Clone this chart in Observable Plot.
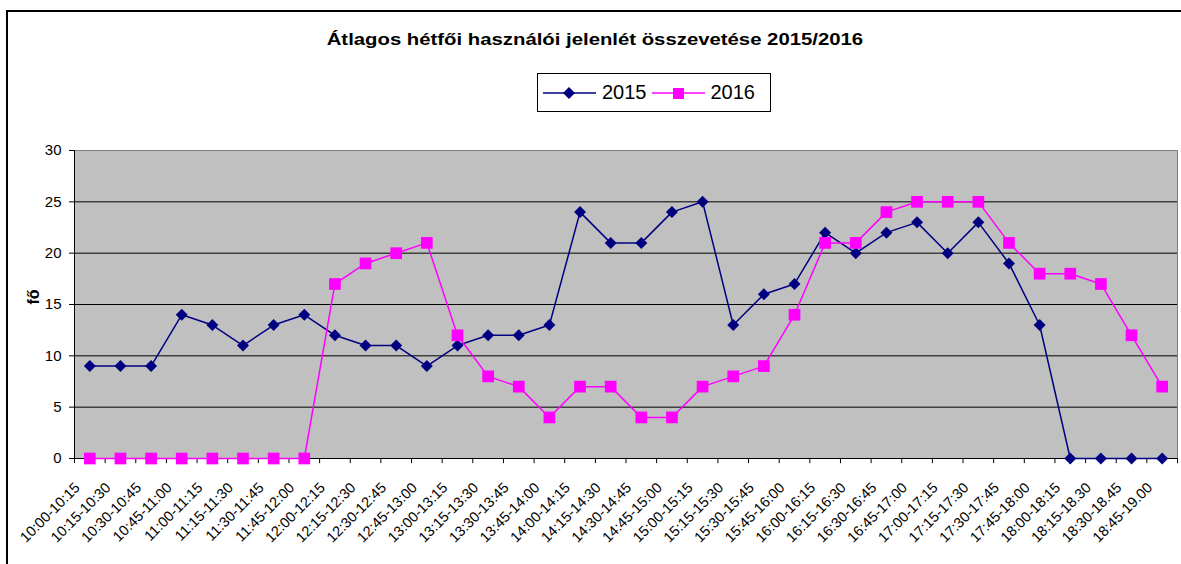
<!DOCTYPE html>
<html><head><meta charset="utf-8">
<script src="https://cdn.jsdelivr.net/npm/d3@7"></script>
<script src="https://cdn.jsdelivr.net/npm/@observablehq/plot@0.6"></script>
<style>
body{margin:0;background:#fff;font-family:"Liberation Sans",Arial,sans-serif;}
#wrap{position:relative;width:1181px;height:564px;overflow:hidden;background:#fff;}
#frame{position:absolute;left:6px;top:10px;width:1200px;height:600px;border-top:2px solid #000;border-left:2px solid #000;}
#title{position:absolute;left:0;width:1192px;top:31px;text-align:center;font-weight:bold;font-size:16px;color:#000;transform:scaleX(1.27);transform-origin:600px 0;}
#legend{position:absolute;left:537px;top:73px;width:232px;height:37px;border:1px solid #000;background:#fff;display:flex;align-items:center;font-size:20px;}
#legend .item{display:flex;align-items:center;margin-left:5px;}
#legend .item span{margin-left:6px;}
#chart{position:absolute;left:0;top:0;}
</style></head><body>
<div id="wrap"><div id="frame"></div><div id="chart"></div><div id="title">Átlagos hétfői használói jelenlét összevetése 2015/2016</div><div id="legend"></div></div>
<script>
const categories = ["10:00-10:15","10:15-10:30","10:30-10:45","10:45-11:00","11:00-11:15","11:15-11:30","11:30-11:45","11:45-12:00","12:00-12:15","12:15-12:30","12:30-12:45","12:45-13:00","13:00-13:15","13:15-13:30","13:30-13:45","13:45-14:00","14:00-14:15","14:15-14:30","14:30-14:45","14:45-15:00","15:00-15:15","15:15-15:30","15:30-15:45","15:45-16:00","16:00-16:15","16:15-16:30","16:30-16:45","16:45-17:00","17:00-17:15","17:15-17:30","17:30-17:45","17:45-18:00","18:00-18:15","18:15-18.30","18:30-18.45","18:45-19.00"];
const values2015 = [9,9,9,14,13,11,13,14,12,11,11,9,11,12,12,13,24,21,21,24,25,13,16,17,22,20,22,23,20,23,19,13,0,0,0,0];
const values2016 = [0,0,0,0,0,0,0,0,17,19,20,21,12,8,7,4,7,7,4,4,7,8,9,14,21,21,24,25,25,25,21,18,18,17,12,7];
const seriesNames = ["2015","2016"];
const seriesColors = ["#000080","#ff00ff"];
const yTicks = [0,5,10,15,20,25,30];
const gridTicks = [5,10,15,20,25];
const yLabel = "fő";

const W = 1181, H = 564, ML = 74, MR = 4, MT = 150, MB = 106;
const step = (W - ML - MR) / categories.length;

const d2015 = categories.map((c,i)=>({cat:c, v:values2015[i]}));
const d2016 = categories.map((c,i)=>({cat:c, v:values2016[i]}));

const chart = Plot.plot({
  width: W, height: H,
  marginLeft: ML, marginRight: MR, marginTop: MT, marginBottom: MB,
  style: {background: "transparent", fontFamily: '"Liberation Sans", Arial, sans-serif', color: "#000"},
  x: {type: "point", domain: categories, padding: 0.5, round: false, axis: null},
  y: {domain: [0, 30], axis: null},
  marks: [
    Plot.frame({fill: "#c0c0c0", stroke: "#808080"}),
    Plot.gridY({ticks: gridTicks, stroke: "#000", strokeOpacity: 1}),
    Plot.ruleY([0], {stroke: "#000"}),
    Plot.ruleX([categories[0]], {x: d=>d, dx: -step/2, y1: 0, y2: 30, stroke: "#000"}),
    Plot.ruleX(categories, {x: d=>d, dx: -step/2, y1: 0, y2: -0.5, stroke: "#000"}),
    Plot.ruleX([categories[categories.length-1]], {x: d=>d, dx: step/2, y1: 0, y2: -0.5, stroke: "#000"}),
    Plot.axisY({ticks: yTicks, tickSize: 5, tickPadding: 8, fontSize: 15, label: null, stroke: "#000"}),
    Plot.text([yLabel], {text: d=>d, frameAnchor: "left", rotate: -90, dx: -41, fontWeight: "bold", fontSize: 16}),
    Plot.text(categories, {x: d=>d, text: d=>d, frameAnchor: "bottom", rotate: -45, textAnchor: "end", lineAnchor: "bottom", dx: -9, dy: 30, fontSize: 14.5}),
    Plot.line(d2015, {x: "cat", y: "v", stroke: seriesColors[0], strokeWidth: 1.5}),
    Plot.dot(d2015, {x: "cat", y: "v", symbol: "diamond2", r: 5.4, fill: seriesColors[0]}),
    Plot.line(d2016, {x: "cat", y: "v", stroke: seriesColors[1], strokeWidth: 1.5}),
    Plot.dot(d2016, {x: "cat", y: "v", symbol: "square", r: 6.6, fill: seriesColors[1]})
  ]
});
document.getElementById("chart").appendChild(chart);

const symbols = [
  '<path d="M26,1 L32,7 L26,13 L20,7 Z" fill="#000080"/>',
  '<rect x="21" y="2" width="11" height="11" fill="#ff00ff"/>'
];
const legend = document.getElementById("legend");
seriesNames.forEach((name,i)=>{
  const it = document.createElement("div");
  it.className = "item";
  it.innerHTML = `<svg width="53" height="14"><line x1="0" y1="7" x2="53" y2="7" stroke="${seriesColors[i]}" stroke-width="1.5"/>${symbols[i]}</svg><span>${name}</span>`;
  legend.appendChild(it);
});
</script>
</body></html>
